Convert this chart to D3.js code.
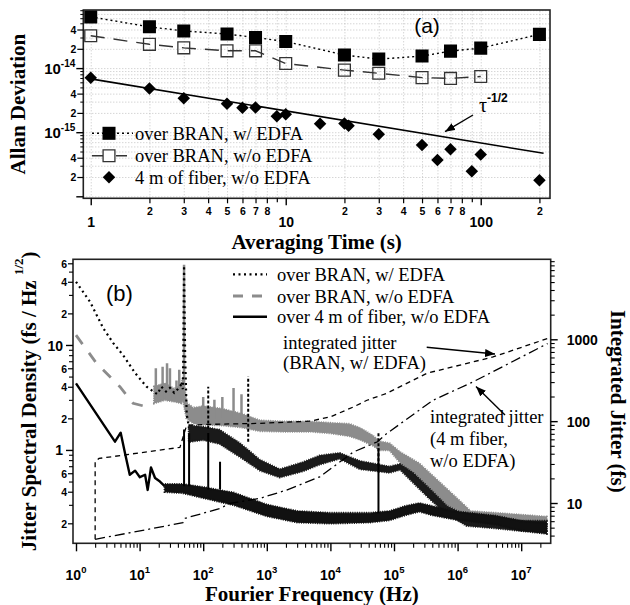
<!DOCTYPE html>
<html><head><meta charset="utf-8">
<script src="https://cdn.jsdelivr.net/npm/d3@7/dist/d3.min.js"></script>
<style>html,body{margin:0;padding:0;background:#fff}</style>
</head><body>
<svg id="chart" width="630" height="605" xmlns="http://www.w3.org/2000/svg"></svg>
<script>
// ================= DATA : panel (a) Allan deviation =================
const tauEdfa   = [1,2,3,5,7,10,20,30,50,70,100,200];
const adevEdfa  = [6.3e-14,4.4e-14,3.8e-14,3.4e-14,3.0e-14,2.6e-14,1.6e-14,1.38e-14,1.54e-14,1.84e-14,2.05e-14,3.36e-14];
const tauNoEdfa = [1,2,3,5,7,10,20,30,50,70,100];
const adevNoEdfa= [3.2e-14,2.35e-14,2.07e-14,1.86e-14,1.86e-14,1.18e-14,9.3e-15,8.3e-15,7.1e-15,6.9e-15,7.4e-15];
const tauFiber  = [1,2,3,5,6,7,9,10,15,20,21,30,50,60,70,90,100,200];
const adevFiber = [7.1e-15,4.8e-15,3.4e-15,2.77e-15,2.4e-15,2.43e-15,1.78e-15,1.9e-15,1.36e-15,1.37e-15,1.26e-15,9.3e-16,6.3e-16,3.7e-16,5.4e-16,2.45e-16,4.5e-16,1.78e-16];
const tauFit    = [1,210];
const adevFit   = [6.8e-15,4.69e-16];
const legendA   = ["over BRAN, w/ EDFA","over BRAN, w/o EDFA","4 m of fiber, w/o EDFA"];

const tauMajorTicks = [1,10,100];
const tauMajorLabels = ["1","10","100"];
const tauMinorLabelTicks = [2,3,4,5,6,7,8,20,30,40,50,60,70,80,200];
const tauMinorLabels = ["2","3","4","5","6","7","8","2","3","4","5","6","7","8","2"];
const tauMinorTicks = [9,90];
const adevMajorTicks = [1e-16,1e-15,1e-14];
const adevMajorLabelTicks = [1e-15,1e-14];
const adevMajorExp = ["-15","-14"];
const adevMinorLabelTicks = [2e-16,4e-16,2e-15,4e-15,2e-14,4e-14];
const adevMinorLabels = ["2","4","2","4","2","4"];
const adevMinorTicks = [3e-16,5e-16,6e-16,7e-16,8e-16,9e-16,3e-15,5e-15,6e-15,7e-15,8e-15,9e-15,3e-14,5e-14,6e-14,7e-14,8e-14];

// ================= DATA : panel (b) jitter spectral density =================
// over BRAN, w/ EDFA (black dotted)
const edfaLineF = [1,1.66,2.69,3.86,5.5,8.5,12.9,16.4,19,22,26,30,35,40,45,48,50,52,55,60];
const edfaLineV = [40,25.8,14.4,10.4,8.0,5.4,4.0,3.6,3.4,4.0,3.6,3.9,3.5,3.8,4.2,3.8,57,8,2.2,1.6];
const edfaBandF = [60,100,180,380,780,1600,3700,6800,14000,29000,85000,125000,200000,370000,680000,1.4e6,4e6,1e7,2.5e7];
const edfaBandLo= [1.2,1.25,1.15,0.86,0.64,0.55,0.63,0.73,0.83,0.66,0.61,0.65,0.49,0.34,0.245,0.19,0.18,0.17,0.17];
const edfaBandHi= [1.7,1.65,1.55,1.15,0.8,0.65,0.76,0.88,0.93,0.78,0.69,0.73,0.6,0.42,0.29,0.235,0.225,0.21,0.21];
const edfaSpikeF = [120,510,57000];
const edfaSpikeBase = [1.6,1.2,0.7];
const edfaSpikeTop = [4.0,5.0,1.45];
// over BRAN, w/o EDFA (gray dashed)
const noEdfaLineF = [1,2.1,4.9,7.9,12.9,16.4];
const noEdfaLineV = [12.4,6.7,4.0,2.78,2.58,2.6];
const noEdfaBandF = [17,25,35,45,48,55,70,100,200,400,780,2000,5000,10000,20000,30000,45000,60000,85000,125000,250000,470000,1e6,1.6e6,4e6,1e7,2.5e7];
const noEdfaBandLo= [2.8,3.0,2.9,2.8,3.1,2.0,1.8,1.75,1.72,1.65,1.52,1.5,1.5,1.45,1.36,1.25,1.12,1.0,1.0,0.76,0.52,0.34,0.26,0.21,0.2,0.19,0.19];
const noEdfaBandHi= [4.0,4.3,3.8,4.1,4.8,2.8,2.5,2.6,2.45,2.2,1.9,1.85,1.85,1.8,1.76,1.6,1.38,1.2,1.15,0.95,0.74,0.52,0.34,0.26,0.25,0.24,0.23];
const noEdfaSpikeF = [18,23,27,30,38,42,50,100,150,200,300,400];
const noEdfaSpikeBase = [3,3,3,3,3,3,4,2,2,2,2,2];
const noEdfaSpikeTop = [6.0,6.2,6.7,6.0,4.6,5.8,58,3.2,3.0,3.2,3.9,3.4];
// over 4 m of fiber, w/o EDFA (black solid)
const fiberLineF = [1,4.1,5.04,5.9,7.0,8.5,10.1,12.2,13.4,15.1,17.5,20.9,25];
const fiberLineV = [4.3,1.2,1.46,0.93,0.58,0.635,0.55,0.58,0.416,0.68,0.54,0.50,0.45];
const fiberBandF = [25,48,100,300,1000,3000,10000,42000,85000,150000,250000,400000,850000,4e6,1e7,2.5e7];
const fiberBandLo= [0.40,0.39,0.35,0.30,0.235,0.205,0.20,0.205,0.215,0.24,0.26,0.24,0.22,0.195,0.17,0.16];
const fiberBandHi= [0.47,0.47,0.44,0.39,0.30,0.26,0.25,0.25,0.26,0.29,0.31,0.29,0.26,0.235,0.21,0.20];
const fiberSpikeF = [50,60,120,184,57000];
const fiberSpikeBase = [0.45,0.45,0.42,0.42,0.25];
const fiberSpikeTop = [1.57,1.44,1.45,0.77,1.04];
// integrated jitter (right axis, fs)
const intEdfaF = [2,2,2.3,10,43,50,55,100,780,4800,10000,23000,37600,76000,330000,3.6e6,2.6e7];
const intEdfaV = [3.6,32,35,41,47.8,70,89,91,94,100,113,149,180,218,385,608,1023];
const intFiberF = [2,48,52,184,265,780,2050,6800,23000,55000,76000,410000,1.74e6,2.6e7];
const intFiberV = [3.6,5.75,6.5,8.6,9.9,11.4,14.4,20.9,42,56,70,180,301,887];
const legendB = ["over BRAN, w/ EDFA","over BRAN, w/o EDFA","over 4 m of fiber, w/o EDFA"];

const freqMajorTicks = [1,10,100,1e3,1e4,1e5,1e6,1e7];
const freqMajorExp = ["0","1","2","3","4","5","6","7"];
const psdMajorTicks = [1,10];
const psdMajorLabels = ["1","10"];
const psdMinorLabelTicks = [0.2,0.4,0.6,2,4,6,20,40,60];
const psdMinorLabels = ["2","4","6","2","4","6","2","4","6"];
const psdMinorTicks = [0.3,0.5,0.7,0.8,0.9,3,5,7,8,9,30,50];
const jitMajorTicks = [10,100,1000];
const jitMajorLabels = ["10","100","1000"];

// ================= DRAWING =================
const svg = d3.select('#chart');
const SERIF = "'Liberation Serif','Times New Roman',Times,serif";
const SANS = "'Liberation Sans',Arial,Helvetica,sans-serif";
const zip2 = (a,b) => a.map((v,i)=>[v,b[i]]);

const defs = svg.append('defs');
defs.append('marker').attr('id','arr').attr('viewBox','0 0 10 8').attr('refX',10).attr('refY',4)
  .attr('markerWidth',10).attr('markerHeight',8).attr('markerUnits','userSpaceOnUse').attr('orient','auto')
  .append('path').attr('d','M0,0 L10,4 L0,8 Z').attr('fill','#000');

function styleTicks(g, w){ g.select('.domain').remove(); g.selectAll('line').attr('stroke','#000').attr('stroke-width',w||1.2); }

// ---------------- Panel (a) ----------------
const A = {l:83.3, r:550, t:10, b:198.3};
const xA = d3.scaleLog().domain([0.916,226.6]).range([A.l,A.r]);
const yA = d3.scaleLog().domain([9.31e-17,8.06e-14]).range([A.b,A.t]);
defs.append('clipPath').attr('id','clipA').append('rect')
  .attr('x',A.l).attr('y',A.t).attr('width',A.r-A.l).attr('height',A.b-A.t);

const gA = svg.append('g');
const gridXA = [...tauMajorTicks,...tauMinorLabelTicks,...tauMinorTicks];
const gridYA = [...adevMajorTicks,...adevMinorLabelTicks,...adevMinorTicks];
gA.append('g').attr('transform',`translate(0,${A.b})`)
  .call(d3.axisBottom(xA).tickValues(gridXA).tickSize(-(A.b-A.t)).tickFormat(''))
  .call(g=>{g.select('.domain').remove(); g.selectAll('line').attr('stroke','#b5b5b5').attr('stroke-width',0.8).attr('stroke-dasharray','1,2');});
gA.append('g').attr('transform',`translate(${A.l},0)`)
  .call(d3.axisLeft(yA).tickValues(gridYA).tickSize(-(A.r-A.l)).tickFormat(''))
  .call(g=>{g.select('.domain').remove(); g.selectAll('line').attr('stroke','#b5b5b5').attr('stroke-width',0.8).attr('stroke-dasharray','1,2');});

const dA = gA.append('g').attr('clip-path','url(#clipA)');
const lineA = d3.line().x(d=>xA(d[0])).y(d=>yA(d[1]));
dA.append('path').attr('d',lineA(zip2(tauFit,adevFit))).attr('fill','none').attr('stroke','#000').attr('stroke-width',1.6);
dA.append('path').attr('d',lineA(zip2(tauEdfa,adevEdfa))).attr('fill','none').attr('stroke','#000').attr('stroke-width',1.4).attr('stroke-dasharray','2,3');
dA.append('path').attr('d',lineA(zip2(tauNoEdfa,adevNoEdfa))).attr('fill','none').attr('stroke','#333').attr('stroke-width',1.4).attr('stroke-dasharray','14,9');
const sqF = d3.symbol(d3.symbolSquare,170)();
const sqO = d3.symbol(d3.symbolSquare,140)();
const dia = d3.symbol(d3.symbolSquare,78)();
dA.selectAll('.fs').data(zip2(tauEdfa,adevEdfa)).join('path').attr('d',sqF)
  .attr('transform',d=>`translate(${xA(d[0])},${yA(d[1])})`).attr('fill','#000');
dA.selectAll('.os').data(zip2(tauNoEdfa,adevNoEdfa)).join('path').attr('d',sqO)
  .attr('transform',d=>`translate(${xA(d[0])},${yA(d[1])})`).attr('fill','none').attr('stroke','#333').attr('stroke-width',1.3);
dA.selectAll('.dm').data(zip2(tauFiber,adevFiber)).join('path').attr('d',dia)
  .attr('transform',d=>`translate(${xA(d[0])},${yA(d[1])}) rotate(45)`).attr('fill','#000');

gA.append('rect').attr('x',A.l).attr('y',A.t).attr('width',A.r-A.l).attr('height',A.b-A.t)
  .attr('fill','none').attr('stroke','#222').attr('stroke-width',1.6);
gA.append('g').attr('transform',`translate(0,${A.b})`)
  .call(d3.axisBottom(xA).tickValues(tauMajorTicks).tickSize(7).tickFormat((d,i)=>tauMajorLabels[i]))
  .call(g=>{styleTicks(g,1.4); g.selectAll('text').attr('y',29).attr('dy',0).attr('font-family',SANS).attr('font-weight','bold').attr('font-size',14).attr('fill','#000');});
gA.append('g').attr('transform',`translate(0,${A.b})`)
  .call(d3.axisBottom(xA).tickValues(tauMinorLabelTicks).tickSize(5).tickFormat((d,i)=>tauMinorLabels[i]))
  .call(g=>{styleTicks(g); g.selectAll('text').attr('y',16.5).attr('dy',0).attr('font-family',SANS).attr('font-weight','bold').attr('font-size',10.5).attr('fill','#000');});
gA.append('g').attr('transform',`translate(0,${A.b})`)
  .call(d3.axisBottom(xA).tickValues(tauMinorTicks).tickSize(4).tickFormat(''))
  .call(g=>styleTicks(g));
gA.append('g').attr('transform',`translate(${A.l},0)`)
  .call(d3.axisLeft(yA).tickValues(adevMajorTicks).tickSize(7).tickFormat(''))
  .call(g=>styleTicks(g,1.4));
gA.append('g').attr('transform',`translate(${A.l},0)`)
  .call(d3.axisLeft(yA).tickValues(adevMinorLabelTicks).tickSize(6).tickFormat((d,i)=>adevMinorLabels[i]))
  .call(g=>{styleTicks(g); g.selectAll('text').attr('x',-7).attr('dy','0.36em').attr('font-family',SANS).attr('font-weight','bold').attr('font-size',10.5).attr('fill','#000');});
gA.append('g').attr('transform',`translate(${A.l},0)`)
  .call(d3.axisLeft(yA).tickValues(adevMinorTicks).tickSize(3).tickFormat(''))
  .call(g=>styleTicks(g,1));
adevMajorLabelTicks.forEach((v,i)=>{
  const t = gA.append('text').attr('x',A.l-8).attr('y',yA(v)+6).attr('text-anchor','end')
    .attr('font-family',SANS).attr('font-weight','bold').attr('font-size',15);
  t.append('tspan').text('10');
  t.append('tspan').attr('font-size',10).attr('dy',-7).text(adevMajorExp[i]);
});
gA.append('text').attr('x',(A.l+A.r)/2).attr('y',249).attr('text-anchor','middle')
  .attr('font-family',SERIF).attr('font-weight','bold').attr('font-size',21).text('Averaging Time (s)');
gA.append('text').attr('transform',`translate(25,${(A.t+A.b)/2}) rotate(-90)`).attr('text-anchor','middle')
  .attr('font-family',SERIF).attr('font-weight','bold').attr('font-size',21).text('Allan Deviation');
const legA = gA.append('g');
const lyA = [133.3,155.7,177.3];
legA.append('line').attr('x1',92).attr('x2',133).attr('y1',lyA[0]).attr('y2',lyA[0]).attr('stroke','#000').attr('stroke-width',1.4).attr('stroke-dasharray','2,3');
legA.append('path').attr('d',sqF).attr('transform',`translate(109,${lyA[0]})`).attr('fill','#000');
legA.append('line').attr('x1',92).attr('x2',128).attr('y1',lyA[1]).attr('y2',lyA[1]).attr('stroke','#333').attr('stroke-width',1.4).attr('stroke-dasharray','11,13');
legA.append('path').attr('d',sqO).attr('transform',`translate(109,${lyA[1]})`).attr('fill','#fff').attr('stroke','#333').attr('stroke-width',1.3);
legA.append('path').attr('d',dia).attr('transform',`translate(109,${lyA[2]}) rotate(45)`).attr('fill','#000');
legendA.forEach((s,i)=>legA.append('text').attr('x',135).attr('y',lyA[i]+6.5)
  .attr('font-family',SERIF).attr('font-size',18.5).text(s));
gA.append('text').attr('x',427).attr('y',33).attr('text-anchor','middle').attr('font-family',SANS).attr('font-size',21).text('(a)');
const tau = gA.append('text').attr('x',479).attr('y',111.5).attr('font-family',SERIF).attr('font-size',20);
tau.append('tspan').text('τ');
tau.append('tspan').attr('font-family',SANS).attr('font-weight','bold').attr('font-size',12).attr('dy',-10).text('-1/2');
gA.append('line').attr('x1',473).attr('y1',115).attr('x2',445).attr('y2',131.7).attr('stroke','#000').attr('stroke-width',1.4).attr('marker-end','url(#arr)');

// ---------------- Panel (b) ----------------
const B = {l:73, r:550.7, t:259.3, b:543.3};
const xB = d3.scaleLog().domain([0.897,2.91e7]).range([B.l,B.r]);
const yB = d3.scaleLog().domain([0.129,65.5]).range([B.b,B.t]);
const yR = d3.scaleLog().domain([3.22,9486]).range([B.b,B.t]);
defs.append('clipPath').attr('id','clipB').append('rect')
  .attr('x',B.l).attr('y',B.t).attr('width',B.r-B.l).attr('height',B.b-B.t);
const gB = svg.append('g');
const dB = gB.append('g').attr('clip-path','url(#clipB)');
const lineB = d3.line().x(d=>xB(d[0])).y(d=>yB(d[1]));
const lineR = d3.line().x(d=>xB(d[0])).y(d=>yR(d[1]));
const areaB = d3.area().x(d=>xB(d.f)).y0(d=>yB(d.lo)).y1(d=>yB(d.hi));
const band = (F,L,H)=>F.map((f,i)=>({f,lo:L[i],hi:H[i]}));
function drawBand(F,L,H,color){
  const d = areaB(band(F,L,H));
  dB.append('path').attr('d',d).attr('fill',color).attr('stroke',color).attr('stroke-width',1);
  dB.append('path').attr('d',d).attr('fill','none').attr('stroke',color).attr('stroke-width',2.6).attr('stroke-dasharray','1,1.3');
}
function spikes(F,Bs,T,color,w,dash){
  dB.append('g').selectAll('line').data(F.map((f,i)=>({f,b:Bs[i],t:T[i]}))).join('line')
    .attr('x1',d=>xB(d.f)).attr('x2',d=>xB(d.f)).attr('y1',d=>yB(d.b)).attr('y2',d=>yB(d.t))
    .attr('stroke',color).attr('stroke-width',w).attr('stroke-dasharray',dash||null);
}
const GRAY = '#8c8c8c';
drawBand(noEdfaBandF,noEdfaBandLo,noEdfaBandHi,GRAY);
spikes(noEdfaSpikeF,noEdfaSpikeBase,noEdfaSpikeTop,GRAY,2.5);
dB.append('path').attr('d',lineB(zip2(noEdfaLineF,noEdfaLineV))).attr('fill','none').attr('stroke',GRAY).attr('stroke-width',2.8).attr('stroke-dasharray','11,11');
dB.append('path').attr('d',lineB(zip2(edfaLineF,edfaLineV))).attr('fill','none').attr('stroke','#000').attr('stroke-width',2.2).attr('stroke-dasharray','2,3.5');
drawBand(edfaBandF,edfaBandLo,edfaBandHi,'#1a1a1a');
spikes(edfaSpikeF,edfaSpikeBase,edfaSpikeTop,'#000',2,'3,2');
dB.append('path').attr('d',lineB(zip2(fiberLineF,fiberLineV))).attr('fill','none').attr('stroke','#000').attr('stroke-width',2.4).attr('stroke-linejoin','round');
drawBand(fiberBandF,fiberBandLo,fiberBandHi,'#111');
spikes(fiberSpikeF,fiberSpikeBase,fiberSpikeTop,'#000',2);
dB.append('path').attr('d',lineR(zip2(intEdfaF,intEdfaV))).attr('fill','none').attr('stroke','#000').attr('stroke-width',1.3).attr('stroke-dasharray','5,4');
dB.append('path').attr('d',lineR(zip2(intFiberF,intFiberV))).attr('fill','none').attr('stroke','#000').attr('stroke-width',1.3).attr('stroke-dasharray','10,4,2,4');

gB.append('rect').attr('x',B.l).attr('y',B.t).attr('width',B.r-B.l).attr('height',B.b-B.t)
  .attr('fill','none').attr('stroke','#222').attr('stroke-width',1.6);
const freqMinor = [0,1,2,3,4,5,6,7].flatMap(e=>[2,3,4,5,6,7,8,9].map(k=>k*Math.pow(10,e))).filter(v=>v<2.91e7);
gB.append('g').attr('transform',`translate(0,${B.b})`)
  .call(d3.axisBottom(xB).tickValues(freqMajorTicks).tickSize(8).tickFormat(''))
  .call(g=>styleTicks(g,1.4));
gB.append('g').attr('transform',`translate(0,${B.b})`)
  .call(d3.axisBottom(xB).tickValues(freqMinor).tickSize(4.5).tickFormat(''))
  .call(g=>styleTicks(g,1.1));
freqMajorTicks.forEach((v,i)=>{
  const t = gB.append('text').attr('x',xB(v)).attr('y',580).attr('text-anchor','middle')
    .attr('font-family',SANS).attr('font-weight','bold').attr('font-size',14);
  t.append('tspan').text('10');
  t.append('tspan').attr('font-size',9.5).attr('dy',-7).text(freqMajorExp[i]);
});
gB.append('g').attr('transform',`translate(${B.l},0)`)
  .call(d3.axisLeft(yB).tickValues(psdMajorTicks).tickSize(7).tickFormat((d,i)=>psdMajorLabels[i]))
  .call(g=>{styleTicks(g,1.4); g.selectAll('text').attr('x',-10).attr('dy','0.36em').attr('font-family',SANS).attr('font-weight','bold').attr('font-size',14).attr('fill','#000');});
gB.append('g').attr('transform',`translate(${B.l},0)`)
  .call(d3.axisLeft(yB).tickValues(psdMinorLabelTicks).tickSize(5).tickFormat((d,i)=>psdMinorLabels[i]))
  .call(g=>{styleTicks(g); g.selectAll('text').attr('x',-6).attr('dy','0.36em').attr('font-family',SANS).attr('font-weight','bold').attr('font-size',10.5).attr('fill','#000');});
gB.append('g').attr('transform',`translate(${B.l},0)`)
  .call(d3.axisLeft(yB).tickValues(psdMinorTicks).tickSize(4).tickFormat(''))
  .call(g=>styleTicks(g,1.1));
const jitMinor = [0,1,2,3].flatMap(e=>[2,3,4,5,6,7,8,9].map(k=>k*Math.pow(10,e))).filter(v=>v>3.22 && v<9486);
gB.append('g').attr('transform',`translate(${B.r},0)`)
  .call(d3.axisRight(yR).tickValues(jitMajorTicks).tickSize(7).tickFormat((d,i)=>jitMajorLabels[i]))
  .call(g=>{styleTicks(g,1.4); g.selectAll('text').attr('x',16).attr('dy','0.36em').attr('font-family',SANS).attr('font-weight','bold').attr('font-size',14).attr('fill','#000');});
gB.append('g').attr('transform',`translate(${B.r},0)`)
  .call(d3.axisRight(yR).tickValues(jitMinor).tickSize(4).tickFormat(''))
  .call(g=>styleTicks(g,1.1));
gB.append('text').attr('x',(B.l+B.r)/2).attr('y',601).attr('text-anchor','middle')
  .attr('font-family',SERIF).attr('font-weight','bold').attr('font-size',21).text('Fourier Frequency (Hz)');
const yt = gB.append('text').attr('transform',`translate(36,${(B.t+B.b)/2}) rotate(-90)`).attr('text-anchor','middle')
  .attr('font-family',SERIF).attr('font-weight','bold').attr('font-size',21);
yt.append('tspan').text('Jitter Spectral Density (fs / Hz ');
yt.append('tspan').attr('font-size',13).attr('dy',-13).text('1/2');
yt.append('tspan').attr('dy',13).text(')');
gB.append('text').attr('transform',`translate(611,${(B.t+B.b)/2}) rotate(90)`).attr('text-anchor','middle')
  .attr('font-family',SERIF).attr('font-weight','bold').attr('font-size',21).text('Integrated Jitter (fs)');
const lyB = [274.3,296,316.7];
gB.append('line').attr('x1',233).attr('x2',267).attr('y1',lyB[0]).attr('y2',lyB[0]).attr('stroke','#000').attr('stroke-width',2.2).attr('stroke-dasharray','2,3.5');
gB.append('line').attr('x1',233).attr('x2',267).attr('y1',lyB[1]).attr('y2',lyB[1]).attr('stroke',GRAY).attr('stroke-width',2.8).attr('stroke-dasharray','10,9');
gB.append('line').attr('x1',233).attr('x2',267).attr('y1',lyB[2]).attr('y2',lyB[2]).attr('stroke','#000').attr('stroke-width',2.6);
legendB.forEach((s,i)=>gB.append('text').attr('x',277).attr('y',lyB[i]+6.5)
  .attr('font-family',SERIF).attr('font-size',18.5).text(s));
gB.append('text').attr('x',119.5).attr('y',300.5).attr('text-anchor','middle').attr('font-family',SANS).attr('font-size',22).text('(b)');
const ann1 = ["integrated jitter","(BRAN, w/ EDFA)"];
ann1.forEach((s,i)=>gB.append('text').attr('x',283).attr('y',349+i*19.5).attr('font-family',SERIF).attr('font-size',18.5).text(s));
const ann2 = ["integrated jitter","(4 m fiber,","w/o EDFA)"];
ann2.forEach((s,i)=>gB.append('text').attr('x',430).attr('y',423+i*22).attr('font-family',SERIF).attr('font-size',18.5).text(s));
gB.append('line').attr('x1',426.7).attr('y1',347.3).attr('x2',495).attr('y2',354).attr('stroke','#000').attr('stroke-width',1.4).attr('marker-end','url(#arr)');
gB.append('line').attr('x1',505).attr('y1',415).attr('x2',476).attr('y2',386.5).attr('stroke','#000').attr('stroke-width',1.4).attr('marker-end','url(#arr)');
</script>
</body></html>
